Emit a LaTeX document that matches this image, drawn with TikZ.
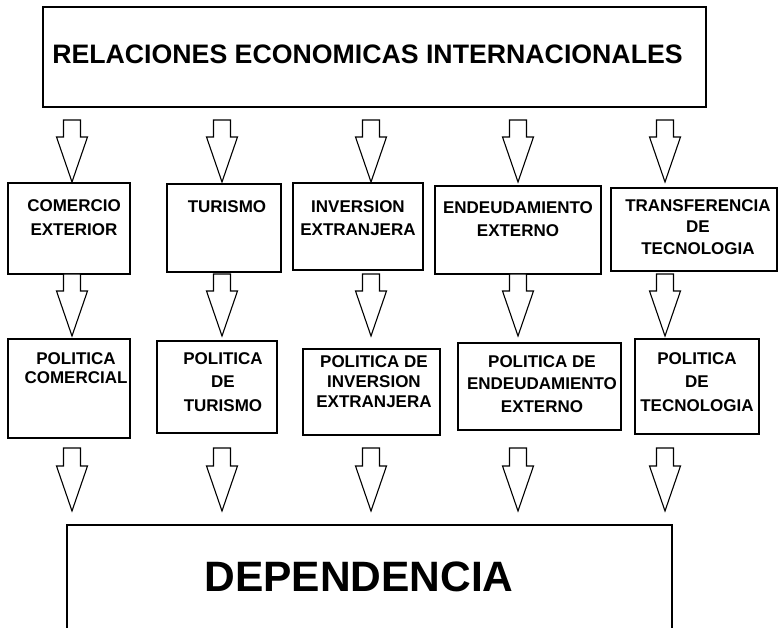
\documentclass[tikz,border=0pt]{standalone}
\usepackage{fontspec}
\setmainfont{Liberation Sans}
\usetikzlibrary{calc,fit}
\tikzset{
  box/.style={draw, line width=1.3pt, inner sep=0pt, rectangle},
  arrowline/.style={draw, line width=1.1pt, line join=miter, fill=white},
  lbl/.style={font=\bfseries\fontsize{17}{#1}\selectfont, align=center, anchor=north, inner sep=0pt},
  lbl/.default=22
}
\newcommand\blockarrow[2]{%
  \draw[arrowline] ($(#1)+(-8.5,0)$) -- ($(#1)+(8.5,0)$) -- ($(#2)+(8.5,-45)$)
    -- ($(#2)+(15.5,-45)$) -- (#2) -- ($(#2)+(-15.5,-45)$) -- ($(#2)+(-8.5,-45)$) -- cycle;}
\begin{document}
\begin{tikzpicture}[x=1pt,y=-1pt]
\useasboundingbox[fill=white] (0,0) rectangle (779,628);
% top box
\node[box, fit={(43,7) (706,107)}] (top) {};
\node[font=\bfseries\fontsize{26.7}{30}\selectfont, anchor=base, inner sep=0pt] (toptxt) at (367.5,64) {RELACIONES ECONOMICAS INTERNACIONALES};
% row 1 boxes
\node[box, fit={(8,183) (130,274)}] (r1a) {};
\node[box, fit={(167,184) (281,272)}] (r1b) {};
\node[box, fit={(293,183) (423,270)}] (r1c) {};
\node[box, fit={(435,186) (601,274)}] (r1d) {};
\node[box, fit={(611,188) (777,271)}] (r1e) {};
\node[lbl=24] (t1a) at (74,199) {COMERCIO\\EXTERIOR};
\node[lbl] (t1b) at (227,200) {TURISMO};
\node[lbl=23] (t1c) at (358,200) {INVERSION\\EXTRANJERA};
\node[lbl=23] (t1d) at (518,201) {ENDEUDAMIENTO\\EXTERNO};
\node[lbl=21.5] (t1e) at (698,199) {TRANSFERENCIA\\DE\\TECNOLOGIA};
% row 2 boxes
\node[box, fit={(8,339) (130,438)}] (r2a) {};
\node[box, fit={(157,341) (277,433)}] (r2b) {};
\node[box, fit={(303,349) (440,435)}] (r2c) {};
\node[box, fit={(458,343) (621,430)}] (r2d) {};
\node[box, fit={(635,339) (759,434)}] (r2e) {};
\node[lbl=19.5] (t2a) at (76,352) {POLITICA\\COMERCIAL};
\node[lbl=23.5] (t2b) at (223,352) {POLITICA\\DE\\TURISMO};
\node[lbl=20] (t2c) at (374,355) {POLITICA DE\\INVERSION\\EXTRANJERA};
\node[lbl=22.5] (t2d) at (542,355) {POLITICA DE\\ENDEUDAMIENTO\\EXTERNO};
\node[lbl=23.5] (t2e) at (697,352) {POLITICA\\DE\\TECNOLOGIA};
% bottom box (continues below the page)
\node[box, fit={(67,525) (672,680)}] (bottom) {};
\node[font=\bfseries\fontsize{42.5}{48}\selectfont, anchor=base, inner sep=0pt] (bottxt) at (359,591) {DEPENDENCIA};
% arrows
\foreach \x [count=\i] in {72,222,371,518,665} {
  \coordinate (s1\i) at (\x,120);
  \coordinate (e1\i) at (\x,182);
  \blockarrow{s1\i}{e1\i}
  \coordinate (s2\i) at (\x,274);
  \coordinate (e2\i) at (\x,336);
  \blockarrow{s2\i}{e2\i}
  \coordinate (s3\i) at (\x,448);
  \coordinate (e3\i) at (\x,511);
  \blockarrow{s3\i}{e3\i}
}
\end{tikzpicture}
\end{document}
